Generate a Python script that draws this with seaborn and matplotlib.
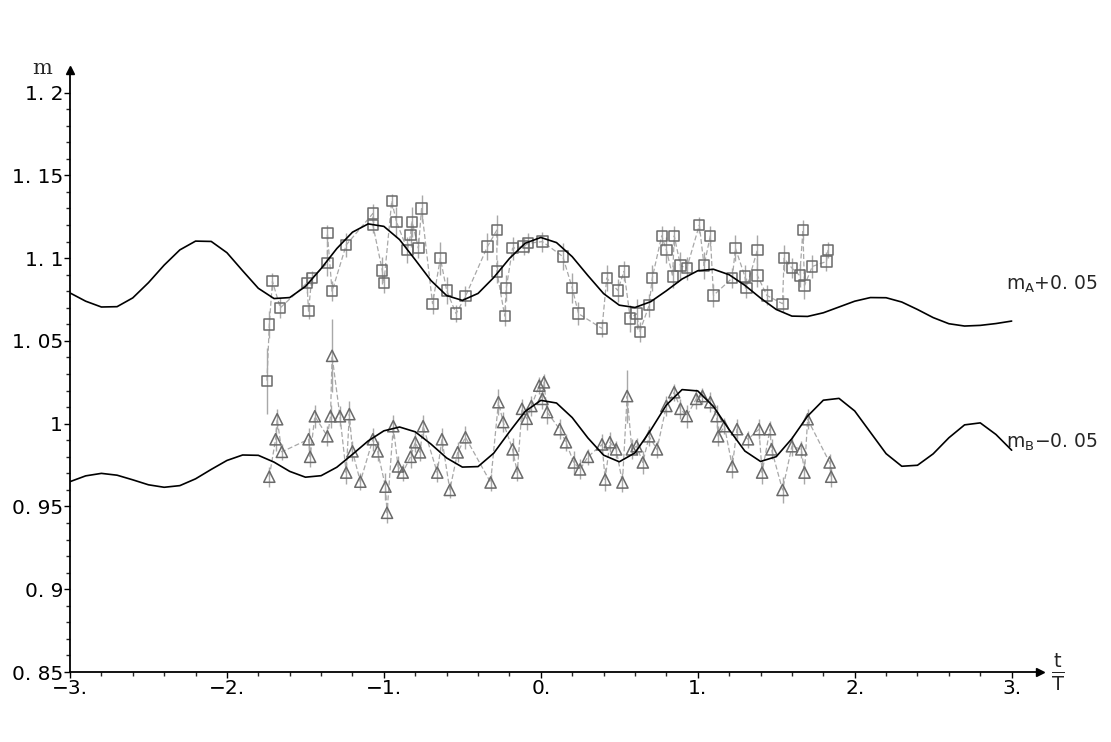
import numpy as np
import matplotlib
matplotlib.use("Agg")
import matplotlib.pyplot as plt
import seaborn as sns

# theory curves, every 0.1 in t/T
t_grid = [-3.0, -2.9, -2.8, -2.7, -2.6, -2.5, -2.4, -2.3, -2.2, -2.1,
          -2.0, -1.9, -1.8, -1.7, -1.6, -1.5, -1.4, -1.3, -1.2, -1.1,
          -1.0, -0.9, -0.8, -0.7, -0.6, -0.5, -0.4, -0.3, -0.2, -0.1,
          0.0, 0.1, 0.2, 0.3, 0.4, 0.5, 0.6, 0.7, 0.8, 0.9,
          1.0, 1.1, 1.2, 1.3, 1.4, 1.5, 1.6, 1.7, 1.8, 1.9,
          2.0, 2.1, 2.2, 2.3, 2.4, 2.5, 2.6, 2.7, 2.8, 2.9, 3.0]
mA_curve = [1.079, 1.074, 1.0705, 1.0707, 1.076, 1.0852, 1.0958, 1.105, 1.1103, 1.1101,
            1.1033, 1.0924, 1.0818, 1.0756, 1.0762, 1.0829, 1.0937, 1.1058, 1.1157, 1.1207,
            1.1192, 1.1112, 1.099, 1.0865, 1.0774, 1.0745, 1.0787, 1.0883, 1.0998, 1.109,
            1.1125, 1.1094, 1.1009, 1.0895, 1.0786, 1.0716, 1.0702, 1.0737, 1.0803, 1.0874,
            1.0924, 1.0933, 1.09, 1.0836, 1.0759, 1.069, 1.065, 1.0648, 1.067, 1.0705,
            1.074, 1.0762, 1.0761, 1.0735, 1.069, 1.0641, 1.0604, 1.059, 1.0594, 1.0605, 1.062]
mB_curve = [0.965, 0.9685, 0.970, 0.9689, 0.9661, 0.9631, 0.9616, 0.9626, 0.9667, 0.9724,
            0.9778, 0.9811, 0.9809, 0.9768, 0.9712, 0.9677, 0.9686, 0.9737, 0.9815, 0.9896,
            0.9957, 0.998, 0.9951, 0.9877, 0.9793, 0.9738, 0.9741, 0.9822, 0.9951, 1.0074,
            1.0141, 1.0125, 1.0037, 0.9914, 0.981, 0.977, 0.9824, 0.9961, 1.0113, 1.0206,
            1.0198, 1.0104, 0.9964, 0.9835, 0.9772, 0.9801, 0.991, 1.0046, 1.0142, 1.0153,
            1.0077, 0.9948, 0.9819, 0.9743, 0.9749, 0.9818, 0.9915, 0.9993, 1.0005, 0.9935, 0.984]

# measured points, series A (squares)
tA = [-1.745, -1.73, -1.71, -1.66, -1.49, -1.48, -1.46, -1.36, -1.36, -1.33,
      -1.24, -1.07, -1.07, -1.01, -1.00, -0.95, -0.92, -0.85, -0.83, -0.82,
      -0.78, -0.76, -0.69, -0.64, -0.60, -0.54, -0.48, -0.34, -0.28, -0.28,
      -0.23, -0.22, -0.18, -0.11, -0.08, 0.01, 0.14, 0.20, 0.24, 0.39,
      0.42, 0.49, 0.53, 0.57, 0.61, 0.63, 0.69, 0.71, 0.77, 0.80,
      0.84, 0.85, 0.89, 0.93, 1.01, 1.04, 1.08, 1.10, 1.22, 1.24,
      1.30, 1.31, 1.38, 1.38, 1.44, 1.54, 1.55, 1.60, 1.65, 1.67,
      1.68, 1.73, 1.82, 1.83]
mA = [1.026, 1.060, 1.086, 1.070, 1.085, 1.068, 1.088, 1.097, 1.115, 1.080,
      1.108, 1.127, 1.120, 1.0925, 1.085, 1.1345, 1.122, 1.105, 1.114, 1.122,
      1.106, 1.130, 1.0725, 1.100, 1.0805, 1.0665, 1.077, 1.107, 1.117, 1.092,
      1.065, 1.082, 1.106, 1.107, 1.109, 1.110, 1.101, 1.082, 1.0665, 1.0575,
      1.088, 1.0805, 1.092, 1.0635, 1.0665, 1.0555, 1.0715, 1.088, 1.1135, 1.105,
      1.089, 1.1135, 1.0955, 1.094, 1.120, 1.0955, 1.1135, 1.0775, 1.088, 1.106,
      1.089, 1.082, 1.105, 1.0895, 1.0775, 1.0725, 1.100, 1.094, 1.0895, 1.117,
      1.0835, 1.095, 1.098, 1.105]
errA = [0.020, 0.008, 0.005, 0.006, 0.006, 0.005, 0.004, 0.008, 0.005, 0.006,
        0.007, 0.006, 0.005, 0.008, 0.006, 0.004, 0.009, 0.008, 0.007, 0.009,
        0.006, 0.008, 0.006, 0.010, 0.008, 0.005, 0.006, 0.008, 0.009, 0.007,
        0.006, 0.008, 0.007, 0.005, 0.006, 0.006, 0.008, 0.009, 0.007, 0.005,
        0.008, 0.007, 0.006, 0.008, 0.009, 0.006, 0.007, 0.008, 0.006, 0.008,
        0.007, 0.006, 0.008, 0.007, 0.005, 0.008, 0.006, 0.007, 0.006, 0.008,
        0.007, 0.006, 0.009, 0.007, 0.006, 0.005, 0.008, 0.006, 0.007, 0.006,
        0.008, 0.007, 0.006, 0.005]

# measured points, series B (triangles)
tB = [-1.73, -1.69, -1.68, -1.65, -1.48, -1.47, -1.44, -1.36, -1.34, -1.33,
      -1.28, -1.24, -1.22, -1.20, -1.15, -1.07, -1.04, -0.99, -0.98, -0.94,
      -0.91, -0.88, -0.83, -0.80, -0.77, -0.75, -0.66, -0.63, -0.58, -0.53,
      -0.48, -0.32, -0.27, -0.24, -0.18, -0.15, -0.12, -0.09, -0.06, -0.01,
      0.01, 0.02, 0.04, 0.12, 0.16, 0.21, 0.25, 0.30, 0.39, 0.41,
      0.44, 0.48, 0.52, 0.55, 0.58, 0.61, 0.65, 0.69, 0.74, 0.80,
      0.85, 0.89, 0.93, 0.99, 1.03, 1.08, 1.12, 1.13, 1.17, 1.22,
      1.25, 1.32, 1.39, 1.41, 1.46, 1.47, 1.54, 1.60, 1.66, 1.68,
      1.70, 1.84, 1.85]
mB = [0.968, 0.9906, 1.0027, 0.983, 0.9906, 0.980, 1.0045, 0.9924, 1.0045, 1.041,
      1.0045, 0.9705, 1.0058, 0.9833, 0.965, 0.9906, 0.9833, 0.962, 0.9462, 0.9985,
      0.9742, 0.9705, 0.980, 0.9888, 0.9827, 0.9985, 0.9705, 0.9906, 0.960, 0.9827,
      0.9918, 0.9645, 1.013, 1.001, 0.9845, 0.9705, 1.009, 1.003, 1.0107, 1.023,
      1.015, 1.025, 1.007, 0.9967, 0.9888, 0.9766, 0.9724, 0.980, 0.9875, 0.9663,
      0.9888, 0.9845, 0.9645, 1.0167, 0.9845, 0.9864, 0.9766, 0.9924, 0.9845, 1.0107,
      1.019, 1.009, 1.0046, 1.015, 1.0167, 1.013, 1.0046, 0.9924, 0.9985, 0.9742,
      0.9967, 0.9906, 0.9967, 0.9705, 0.9967, 0.9845, 0.960, 0.9864, 0.9845, 0.9705,
      1.0027, 0.9766, 0.968]
errB = [0.006, 0.007, 0.006, 0.005, 0.007, 0.006, 0.007, 0.006, 0.007, 0.022,
        0.006, 0.007, 0.008, 0.006, 0.005, 0.007, 0.006, 0.008, 0.006, 0.007,
        0.006, 0.005, 0.007, 0.006, 0.005, 0.007, 0.006, 0.007, 0.005, 0.006,
        0.007, 0.005, 0.008, 0.006, 0.007, 0.005, 0.006, 0.007, 0.006, 0.005,
        0.006, 0.005, 0.007, 0.006, 0.005, 0.007, 0.006, 0.005, 0.006, 0.007,
        0.006, 0.005, 0.006, 0.016, 0.006, 0.005, 0.007, 0.006, 0.005, 0.006,
        0.005, 0.006, 0.007, 0.006, 0.005, 0.006, 0.007, 0.006, 0.005, 0.007,
        0.006, 0.005, 0.006, 0.007, 0.005, 0.006, 0.008, 0.006, 0.005, 0.007,
        0.006, 0.005, 0.006]

y_ticks = [0.85, 0.9, 0.95, 1.0, 1.05, 1.1, 1.15, 1.2]
y_labels = ["0. 85", "0. 9", "0. 95", "1", "1. 05", "1. 1", "1. 15", "1. 2"]
x_ticks = [-3, -2, -1, 0, 1, 2, 3]
x_labels = ["\u22123.", "\u22122.", "\u22121.", "0.", "1.", "2.", "3."]

sns.set_style("white")
plt.rcParams["font.family"] = ["DejaVu Sans"]

fig = plt.figure(figsize=(11.11, 7.42), dpi=100)
ax = fig.add_axes([0.063, 0.0943, 0.873, 0.811])

grey = "#6a6a6a"
light = "#a8a8a8"

# measured data: error bars, dashed connecting lines, open markers
ax.errorbar(tA, mA, yerr=errA, fmt="none", ecolor=light, elinewidth=1.0, zorder=1)
ax.errorbar(tB, mB, yerr=errB, fmt="none", ecolor=light, elinewidth=1.0, zorder=1)
sns.lineplot(x=tA, y=mA, ax=ax, sort=False, estimator=None, color=light,
             lw=0.9, linestyle=(0, (4, 2)), zorder=1)
sns.lineplot(x=tB, y=mB, ax=ax, sort=False, estimator=None, color=light,
             lw=0.9, linestyle=(0, (4, 2)), zorder=1)
sns.scatterplot(x=tA, y=mA, ax=ax, marker="s", s=55, facecolor="none",
                edgecolor=grey, linewidth=1.1, zorder=2)
sns.scatterplot(x=tB, y=mB, ax=ax, marker="^", s=65, facecolor="none",
                edgecolor=grey, linewidth=1.1, zorder=2)

# theory curves
sns.lineplot(x=t_grid, y=mA_curve, ax=ax, sort=False, estimator=None,
             color="black", lw=1.2, zorder=3)
sns.lineplot(x=t_grid, y=mB_curve, ax=ax, sort=False, estimator=None,
             color="black", lw=1.2, zorder=3)

ax.set_xlim(-3, 3.18)
ax.set_ylim(0.85, 1.2135)

for side in ["top", "right"]:
    ax.spines[side].set_visible(False)
for side in ["left", "bottom"]:
    ax.spines[side].set_color("black")
    ax.spines[side].set_linewidth(1.3)

ax.set_yticks(y_ticks)
ax.set_yticklabels(y_labels)
ax.set_xticks(x_ticks)
ax.set_xticklabels(x_labels)
ax.set_xticks(np.arange(-3, 3.01, 0.2), minor=True)
ax.set_yticks(np.arange(0.85, 1.2001, 0.01), minor=True)
ax.tick_params(axis="both", which="major", direction="out", length=4, width=1,
               labelsize=14.5, colors="black", pad=1)
ax.tick_params(axis="both", which="minor", direction="out", length=3, width=1)
ax.tick_params(axis="both", which="both", bottom=True, left=True)

# axis arrows
ax.plot(1, 0, marker=">", color="black", markersize=6, transform=ax.transAxes, clip_on=False)
ax.plot(0, 1, marker="^", color="black", markersize=6, transform=ax.transAxes, clip_on=False)

# axis labels
fig.text(42 / 1111, 1 - 68 / 742, "m", fontsize=15, family="DejaVu Serif",
         ha="center", va="center")
fig.text(1058 / 1111, 1 - 672 / 742, r"$\mathregular{\frac{t}{T}}$", fontsize=20,
         ha="center", va="center")

# curve labels
ax.text(2.962, 1.084, r"$\mathregular{m_A}$+0. 05", fontsize=13.5, ha="left", va="center")
ax.text(2.962, 0.989, r"$\mathregular{m_B}$" + "\u22120. 05", fontsize=13.5,
        ha="left", va="center")

fig.savefig("out.png", dpi=100, facecolor="white")
